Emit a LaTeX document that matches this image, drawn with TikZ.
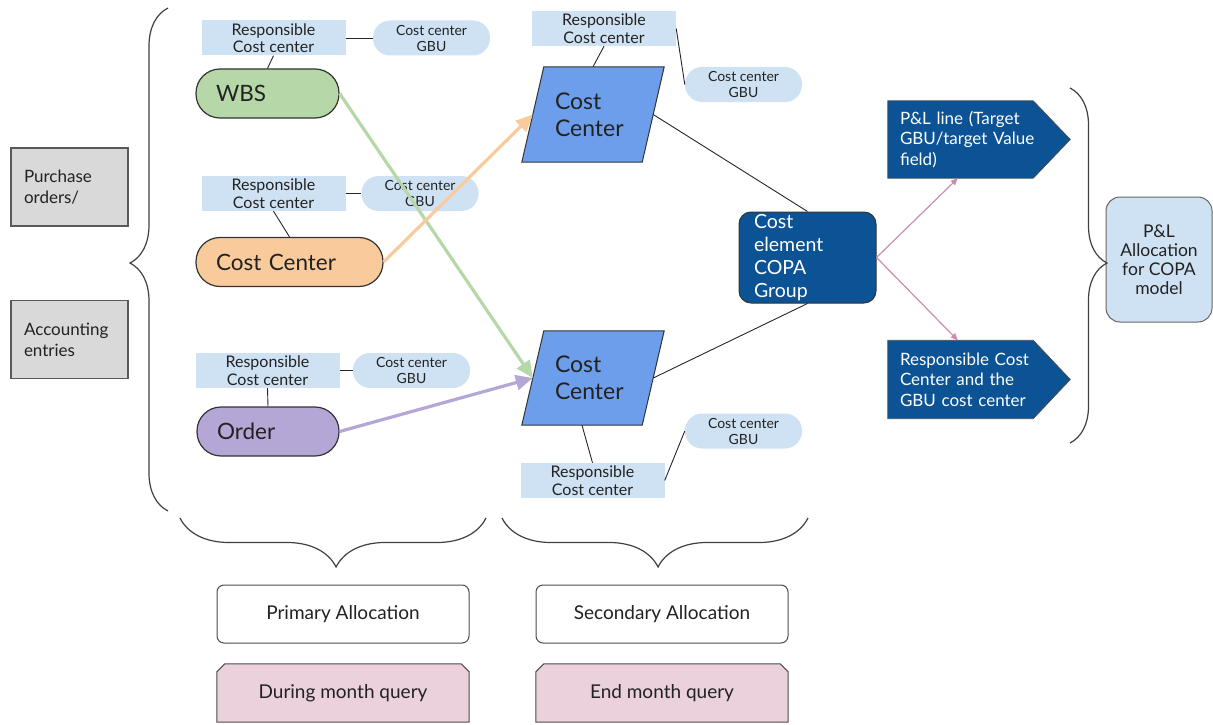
\documentclass[tikz,border=0pt]{standalone}
\usepackage{fontspec}
\setmainfont{Lato}
\usetikzlibrary{arrows.meta,decorations.pathreplacing,backgrounds,calc}
\definecolor{respblue}{HTML}{CFE2F3}
\definecolor{wbsgreen}{HTML}{B6D7A8}
\definecolor{ccorange}{HTML}{F9CB9C}
\definecolor{ordpurple}{HTML}{B4A7D6}
\definecolor{parablue}{HTML}{6D9EEB}
\definecolor{darkblue}{HTML}{0B5394}
\definecolor{boxgray}{HTML}{D9D9D9}
\definecolor{pinkq}{HTML}{EAD1DC}
\definecolor{pinkarrow}{HTML}{C98DB0}
\definecolor{edgec}{HTML}{333333}
\definecolor{txt}{HTML}{222222}
\begin{document}
\begin{tikzpicture}[x=1pt,y=-1pt,
  every node/.style={text=txt},
  resp/.style={fill=respblue, minimum width=144pt, minimum height=35pt, inner sep=0pt, align=center, font=\fontsize{16}{17.5}\selectfont},
  gbu/.style={fill=respblue, rounded corners=17pt, minimum width=117pt, minimum height=35pt, inner sep=0pt, align=center, font=\fontsize{14}{16}\selectfont},
  pill/.style={draw=edgec, line width=1.2pt, rounded corners=24pt, minimum height=49pt, inner xsep=20pt, inner ysep=0pt, align=left, font=\fontsize{22.5}{26}\selectfont},
  paratext/.style={minimum width=120pt, text width=76pt, inner xsep=22pt, inner ysep=0pt, align=left, font=\fontsize{23}{27}\selectfont},
  parafill/.style={fill=parablue, draw=edgec, line width=1pt},
  copabox/.style={draw=black!80, line width=1pt, fill=darkblue, rounded corners=12pt, minimum width=137pt, minimum height=91pt, text width=107pt, inner xsep=15pt, inner ysep=0pt, align=left, text=white, font=\fontsize{19.5}{23}\selectfont},
  pent/.style={minimum width=182pt, text width=158pt, inner xsep=12pt, inner ysep=0pt, align=left, text=white, font=\fontsize{17}{20.5}\selectfont},
  pentfill/.style={fill=darkblue, draw=black!70, line width=0.8pt},
  allocbox/.style={draw=black!60, line width=1pt, fill=respblue, rounded corners=14pt, minimum width=106pt, minimum height=125pt, inner sep=0pt, align=center, font=\fontsize{17.5}{19}\selectfont},
  graybox/.style={draw=black!65, line width=1.3pt, fill=boxgray, minimum width=117pt, minimum height=78pt, text width=91pt, inner xsep=13pt, inner ysep=0pt, align=left, font=\fontsize{17}{21}\selectfont},
  phasebox/.style={draw=black!70, line width=1pt, rounded corners=7pt, minimum width=252pt, minimum height=58pt, inner sep=0pt, font=\fontsize{19}{22}\selectfont},
  querybox/.style={minimum width=252pt, minimum height=58pt, inner sep=0pt, font=\fontsize{19}{22}\selectfont},
  queryfill/.style={fill=pinkq, draw=black!70, line width=1pt},
  thin link/.style={draw=black!85, line width=0.9pt},
  flow/.style={line width=3.2pt, -{Triangle[length=17pt,width=15pt]}},
  pinkflow/.style={draw=pinkarrow, line width=1.2pt, -{Triangle[length=7pt,width=6pt]}},
  bracestyle/.style={draw=black!75, line width=1.2pt, decorate}
]
\useasboundingbox (0,0) rectangle (1213,725);

% left boxes
\node[graybox] (pur) at (69.5,187) {Purchase\\orders/};
\node[graybox] (acc) at (69.5,339.5) {Accounting\\entries};

% primary objects
\node[pill, fill=wbsgreen, text width=103pt] (wbs) at (267.5,93.5) {WBS};
\node[pill, fill=ccorange, text width=147pt] (ccp) at (289.5,262) {Cost Center};
\node[pill, fill=ordpurple, text width=102pt] (ord) at (268,431.5) {Order};

\node[resp] (r1) at (273.5,38) {Responsible\\Cost center};
\node[gbu] (g1) at (431.5,38) {Cost center\\GBU};
\node[resp] (r2) at (273.5,193.5) {Responsible\\Cost center};
\node[gbu] (g2) at (420,193.5) {Cost center\\GBU};
\node[resp] (r3) at (267.5,370.5) {Responsible\\Cost center};
\node[gbu] (g3) at (411.5,370.5) {Cost center\\GBU};

% secondary cost centers
\node[paratext, minimum height=95pt] (cc1) at (593,114.5) {Cost\\Center};
\node[paratext, minimum height=94pt] (cc2) at (593,378) {Cost\\Center};
\node[resp] (r4) at (604,28.5) {Responsible\\Cost center};
\node[gbu] (g4) at (743.5,84.5) {Cost center\\GBU};
\node[resp] (r5) at (592.5,480.5) {Responsible\\Cost center};
\node[gbu] (g5) at (743.5,431) {Cost center\\GBU};

% COPA and results
\node[copabox] (copa) at (807.5,257.5) {Cost\\element\\COPA\\Group};
\node[pent, minimum height=77pt] (pl) at (979,139.5) {P\&L line (Target\\GBU/target Value\\field)};
\node[pent, minimum height=78pt] (pr) at (979,379.5) {Responsible Cost\\Center and the\\GBU cost center};
\node[allocbox] (alloc) at (1159,259.5) {P\&L\\Allocation\\for COPA\\model};

% phases
\node[phasebox] (prim) at (343,614) {Primary Allocation};
\node[phasebox] (sec) at (662,614) {Secondary Allocation};
\node[querybox] (dur) at (343,693) {During month query};
\node[querybox] (endm) at (662,693) {End month query};

\begin{scope}[on background layer]
\foreach \n in {cc1,cc2}
  \draw[parafill] ($(\n.south west)+(-11,0)$) -- ($(\n.north west)+(11,0)$) -- ($(\n.north east)+(11,0)$) -- ($(\n.south east)+(-11,0)$) -- cycle;
\foreach \n in {pl,pr}
  \draw[pentfill] (\n.north west) -- ($(\n.north east)+(-37,0)$) -- (\n.east) -- ($(\n.south east)+(-37,0)$) -- (\n.south west) -- cycle;
\foreach \n in {dur,endm}
  \draw[queryfill] (\n.south west) -- ($(\n.north west)+(0,8)$) -- ($(\n.north west)+(8,0)$) -- ($(\n.north east)+(-8,0)$) -- ($(\n.north east)+(0,8)$) -- (\n.south east) -- cycle;
\end{scope}

% thin links
\draw[thin link] (r1.east) -- (g1.west);
\draw[thin link] (r2.east) -- (g2.west);
\draw[thin link] (r3.east) -- (g3.west);
\draw[thin link] (r1.south) -- (wbs.north);
\draw[thin link] (r2.south) -- (ccp.north);
\draw[thin link] (r3.south) -- (ord.north);
\draw[thin link] (r4.south) -- (cc1.north);
\draw[thin link] (r4.east) -- (g4.west);
\draw[thin link] ($(cc2.south)+(-11,0)$) -- (r5.north);
\draw[thin link] (r5.east) -- (g5.west);
\draw[thin link] (cc1.east) -- (copa.north);
\draw[thin link] (cc2.east) -- (copa.south);

% flows
\draw[flow, draw=wbsgreen, fill=wbsgreen] (wbs.east) -- (cc2.west);
\draw[flow, draw=ccorange, fill=ccorange] (ccp.east) -- (cc1.west);
\draw[flow, draw=ordpurple, fill=ordpurple] (ord.east) -- (cc2.west);
\draw[pinkflow] (copa.east) -- ($(pl.south west)+(70,0)$);
\draw[pinkflow] (copa.east) -- ($(pr.north west)+(70,0)$);

% braces
\draw[bracestyle, decoration={brace, amplitude=38pt, aspect=0.493}] (168,511) -- (168,8);
\draw[bracestyle, decoration={brace, amplitude=37pt, aspect=0.493}] (1070,88) -- (1070,443);
\draw[bracestyle, decoration={brace, amplitude=49pt, aspect=0.49}] (486,518) -- (180,518);
\draw[bracestyle, decoration={brace, amplitude=49pt, aspect=0.49}] (808,518) -- (502,518);
\end{tikzpicture}
\end{document}
